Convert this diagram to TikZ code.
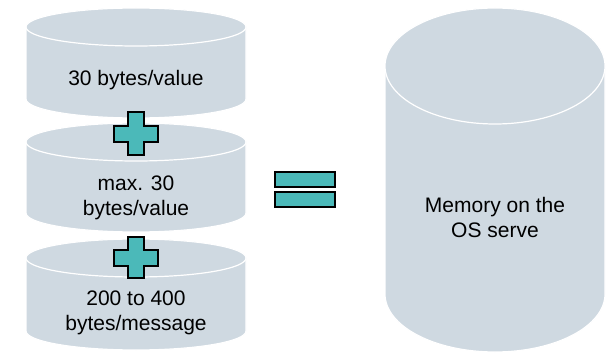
\documentclass[tikz,border=0pt]{standalone}
\usepackage{fontspec}
\setmainfont{Liberation Sans}
\usepackage{tikz}

\definecolor{drum}{RGB}{207,217,225}
\definecolor{teal}{RGB}{75,185,185}

\begin{document}
\begin{tikzpicture}[
        x=1pt, y=-1pt,
        cyl/.style={fill=drum, draw=white, line width=1.2pt},
        sign/.style={fill=teal, draw=black, line width=1.3pt},
        txt/.style={align=center, font=\fontsize{21}{25}\selectfont}
        ]
    \useasboundingbox (0,0) rectangle (614,353);

    % Define the three stacked drums
    \filldraw[cyl] (26,27) -- (26,99) arc(180:0:110 and 19) -- (246,27) arc(0:-180:110 and 19) -- cycle;
    \filldraw[cyl] (136,27) ellipse (110 and 19);
    \filldraw[cyl] (26,142) -- (26,213) arc(180:0:110 and 19) -- (246,142) arc(0:-180:110 and 19) -- cycle;
    \filldraw[cyl] (136,142) ellipse (110 and 19);
    \filldraw[cyl] (26,258) -- (26,331) arc(180:0:110 and 19) -- (246,258) arc(0:-180:110 and 19) -- cycle;
    \filldraw[cyl] (136,258) ellipse (110 and 19);

    % Define the big drum
    \filldraw[cyl] (385,66) -- (385,294) arc(180:0:110 and 58) -- (605,66) arc(0:-180:110 and 58) -- cycle;
    \filldraw[cyl] (495,66) ellipse (110 and 58);

    % Define plus and equal signs
    \filldraw[sign] (128,112) -- (144,112) -- (144,126) -- (158,126) -- (158,142) -- (144,142)
        -- (144,155) -- (128,155) -- (128,142) -- (114,142) -- (114,126) -- (128,126) -- cycle;
    \filldraw[sign] (128,237) -- (144,237) -- (144,250) -- (158,250) -- (158,266) -- (144,266)
        -- (144,278) -- (128,278) -- (128,266) -- (114,266) -- (114,250) -- (128,250) -- cycle;
    \filldraw[sign] (275,172) rectangle (335,187);
    \filldraw[sign] (275,192) rectangle (335,207);

    % Define text nodes
    \node[txt] (val) at (136,80) {30 bytes/value};
    \node[txt] (maxval) at (136,198) {max. 30\\bytes/value};
    \node[txt] (msg) at (136,313) {200 to 400\\bytes/message};
    \node[txt] (mem) at (495,217) {Memory on the\\OS serve};

\end{tikzpicture}
\end{document}
